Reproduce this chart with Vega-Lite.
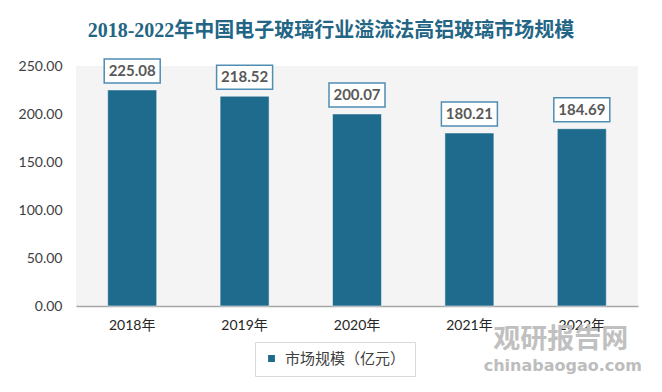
{
  "$schema": "https://vega.github.io/schema/vega-lite/v6.json",
  "width": 562,
  "height": 240,
  "autosize": "none",
  "padding": {"left": 76, "top": 66, "right": 24, "bottom": 86},
  "background": "white",
  "title": {
    "text": "2018-2022年中国电子玻璃行业溢流法高铝玻璃市场规模",
    "anchor": "middle",
    "frame": "group",
    "dx": -26,
    "offset": 15,
    "font": "Liberation Serif, Noto Sans CJK SC",
    "fontSize": 20,
    "fontWeight": "bold",
    "color": "#236585"
  },
  "config": {
    "view": {"fill": "#f4f4f4", "stroke": null},
    "font": "Lato, Noto Sans CJK SC"
  },
  "datasets": {
    "main": [
      {"year": "2018年", "value": 225.08, "series": "市场规模（亿元）"},
      {"year": "2019年", "value": 218.52, "series": "市场规模（亿元）"},
      {"year": "2020年", "value": 200.07, "series": "市场规模（亿元）"},
      {"year": "2021年", "value": 180.21, "series": "市场规模（亿元）"},
      {"year": "2022年", "value": 184.69, "series": "市场规模（亿元）"}
    ],
    "wm": [
      {"year": "2022年", "value": 0, "cn": "观研报告网", "en": "chinabaogao.com"}
    ]
  },
  "data": {"name": "main"},
  "encoding": {
    "x": {
      "field": "year", "type": "nominal", "sort": null,
      "scale": {"paddingInner": 0.564, "paddingOuter": 0.282},
      "axis": {
        "title": null, "labelAngle": 0, "ticks": false,
        "domainColor": "#a6a6a6", "domainWidth": 1.5,
        "labelFont": "Lato, Noto Sans CJK SC", "labelFontSize": 14,
        "labelColor": "#262626", "labelPadding": 12
      }
    },
    "y": {
      "field": "value", "type": "quantitative",
      "scale": {"domain": [0, 250], "nice": false, "zero": true},
      "axis": {
        "title": null, "values": [0, 50, 100, 150, 200, 250], "format": ".2f",
        "grid": false, "ticks": false, "domain": false,
        "labelFont": "Lato", "labelFontSize": 14, "labelColor": "#404040",
        "labelPadding": 14
      }
    }
  },
  "layer": [
    {
      "mark": {"type": "bar", "stroke": "#ffffff", "strokeWidth": 0.5},
      "encoding": {
        "color": {
          "field": "series", "type": "nominal",
          "scale": {"range": ["#1f6b8e"]},
          "legend": {
            "title": null, "orient": "none", "legendX": 179, "legendY": 276,
            "strokeColor": "#d9d9d9", "padding": 9,
            "symbolType": "square", "symbolSize": 70,
            "labelFont": "Noto Sans CJK SC", "labelFontSize": 15,
            "labelColor": "#404040", "labelOffset": 6
          }
        }
      }
    },
    {
      "mark": {
        "type": "point",
        "shape": "M-1,-0.43L1,-0.43L1,0.43L-1,0.43Z",
        "size": 3136,
        "filled": true,
        "fill": "white",
        "stroke": "#4f8db3",
        "strokeWidth": 1.5,
        "opacity": 1,
        "yOffset": -19
      }
    },
    {
      "mark": {
        "type": "text", "dy": -19, "fontSize": 15, "fontWeight": "bold",
        "color": "#595959", "font": "Lato"
      },
      "encoding": {
        "text": {"field": "value", "type": "quantitative", "format": ".2f"}
      }
    },
    {
      "data": {"name": "wm"},
      "mark": {
        "type": "text", "dx": -21, "dy": 34, "fontSize": 27, "fontWeight": "bold",
        "color": "#c0c0c0", "font": "Noto Sans CJK SC"
      },
      "encoding": {
        "text": {"field": "cn", "type": "nominal"}
      }
    },
    {
      "data": {"name": "wm"},
      "mark": {
        "type": "text", "dx": -19, "dy": 60, "fontSize": 16, "fontWeight": "bold",
        "color": "#bdbdbd", "font": "DejaVu Sans"
      },
      "encoding": {
        "text": {"field": "en", "type": "nominal"}
      }
    }
  ]
}
